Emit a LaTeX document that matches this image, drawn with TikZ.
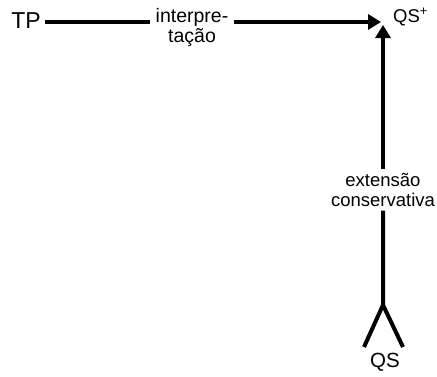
\documentclass[tikz,border=0pt]{standalone}
\usepackage{fontspec}
\setmainfont{Liberation Sans}
\usetikzlibrary{arrows.meta, positioning}

\begin{document}
\begin{tikzpicture}[x=1pt, y=-1pt,
    lbl/.style={inner sep=1pt, align=center, font=\fontsize{18.5}{19.5}\selectfont},
    thickline/.style={line width=4pt},
    arr/.style={thickline, -{Triangle[length=13pt, width=15pt]}}]
  \useasboundingbox (0,0) rectangle (437,376);
  % Labels
  \node[lbl, font=\fontsize{23}{23}\selectfont] (tp) at (26,21) {TP};
  \node[lbl, inner xsep=5pt, font=\fontsize{19.5}{20}\selectfont] (interp) at (192,27) {interpre-\\tação};
  \coordinate (tip) at (383,22);
  \node[lbl, anchor=west] (qsplus) at (392,17) {QS\textsuperscript{+}};
  \node[lbl, inner ysep=4pt] (ext) at (383,190) {extensão\\conservativa};
  \coordinate (fork) at (383,305);
  \coordinate (legl) at (364,347);
  \coordinate (legr) at (403,347);
  \node[lbl, font=\fontsize{20.5}{20}\selectfont] (qs) at (385,362) {QS};

  % Connectors
  \draw[thickline] ([xshift=3pt]tp.east |- tip) -- (interp.west |- tip);
  \draw[arr] (interp.east |- tip) -- ([xshift=-2pt]tip);
  \draw[arr] (ext.north) -- ([yshift=-3pt]tip);
  \draw[thickline, line join=round] (ext.south) -- (fork) -- (legl);
  \draw[thickline] (fork) -- (legr);
\end{tikzpicture}
\end{document}
